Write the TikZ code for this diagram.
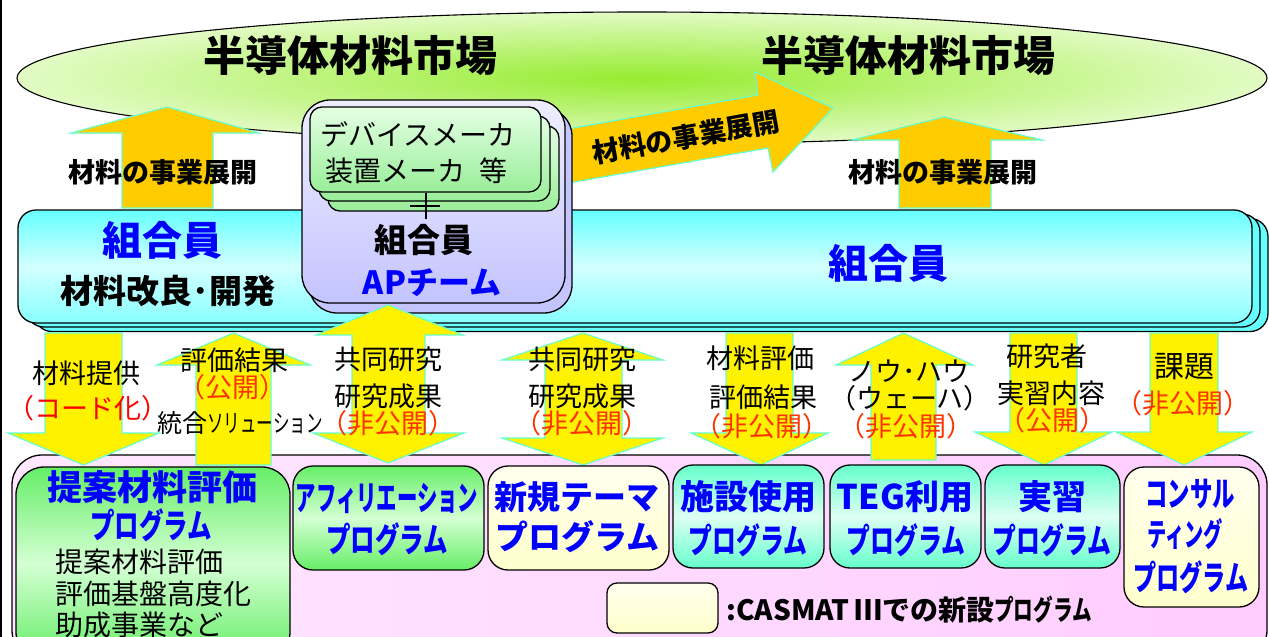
\documentclass[tikz,border=0pt]{standalone}
\usepackage{fontspec}
\setmainfont{Noto Sans CJK JP}
\usetikzlibrary{shapes.geometric}
\definecolor{arrorange}{HTML}{FFCC00}
\definecolor{aqua}{HTML}{66FFCC}
\definecolor{jblue}{HTML}{0000FF}
\definecolor{jred}{HTML}{FF3300}
\definecolor{pred}{HTML}{FF0000}
\definecolor{mktin}{HTML}{96EC30}
\definecolor{mktout}{HTML}{E2FBC4}
\definecolor{cyantop}{HTML}{66FFFF}
\definecolor{cyanmid}{HTML}{D4FFFF}
\definecolor{cyanbot}{HTML}{88FFFF}
\definecolor{lavtop}{HTML}{EEEEFF}
\definecolor{lavbot}{HTML}{C4C4FF}
\definecolor{gtop}{HTML}{66EE66}
\definecolor{gmid}{HTML}{D4FFD4}
\definecolor{ttop}{HTML}{66FFCC}
\definecolor{tmid}{HTML}{DDFFF4}
\definecolor{creamtop}{HTML}{FFFFEE}
\definecolor{creambot}{HTML}{FFFFCC}
\definecolor{pinkl}{HTML}{FFE8FF}
\definecolor{pinkr}{HTML}{FFCCFF}
\definecolor{slgtop}{HTML}{E4FFE4}
\definecolor{slgbot}{HTML}{99EE99}
\newcommand\jfs[1]{\fontsize{#1}{#1}\selectfont}
\newcommand\cond[2]{\scalebox{#1}[1]{#2}}
\tikzset{
  ora/.style={fill=arrorange, draw=aqua, line width=1.2pt, line join=miter},
  yel/.style={fill=yellow, draw=aqua, line width=1.2pt, line join=miter},
  box/.style={draw=black, line width=1.3pt, inner sep=0pt},
  band/.style={box, rounded corners=18pt, minimum width=1234pt, minimum height=113pt},
  greenbox/.style={box, rounded corners=20pt, top color=gtop, bottom color=gtop, middle color=gmid},
  tealbox/.style={box, rounded corners=20pt, top color=ttop, bottom color=ttop, middle color=tmid},
  creambox/.style={box, rounded corners=20pt, top color=creamtop, bottom color=creambot},
  slg/.style={box, rounded corners=12pt, top color=slgtop, bottom color=slgbot, minimum width=231pt, minimum height=85pt},
  lbl/.style={inner sep=0pt, font=\jfs{27}},
  big/.style={inner sep=0pt, font=\jfs{40}\bfseries},
  prog/.style={inner sep=0pt, text=jblue, font=\jfs{34}\bfseries},
  sub/.style={inner sep=0pt, anchor=west, font=\jfs{28}},
}
\begin{document}
\begin{tikzpicture}[x=1pt,y=-1pt]
\useasboundingbox (0,0) rectangle (1269,637);
\fill[white] (0,0) rectangle (1269,637);
\draw[line width=1.5pt] (1,0) -- (1,637);

% market ellipse
\node[ellipse, draw=black, line width=1.1pt, minimum width=1250pt, minimum height=132pt, inner sep=0pt,
      inner color=mktin, outer color=mktout] (mkt) at (642,78) {};
\node[inner sep=0pt, font=\jfs{42}\bfseries] (mktL) at (350,56) {半導体材料市場};
\node[inner sep=0pt, font=\jfs{42}\bfseries] (mktR) at (908,56) {半導体材料市場};

% orange arrows
\path[ora] (122,208) -- (122,133) -- (71,133) -- (167,107) -- (259,133) -- (213,133) -- (213,208) -- cycle;
\path[ora] (899,208) -- (899,140) -- (852,140) -- (944,117) -- (1042,140) -- (991,140) -- (991,208) -- cycle;
\path[ora] (540,134) -- (758,95) -- (755,72) -- (833,108) -- (773,172) -- (768,148) -- (540,188) -- cycle;
\node[inner sep=0pt, font=\jfs{27}\bfseries] (bizL) at (163,172) {材料の事業展開};
\node[inner sep=0pt, font=\jfs{27}\bfseries] (bizR) at (943,172) {材料の事業展開};
\node[inner sep=0pt, font=\jfs{27}\bfseries, rotate=10.1] (bizD) at (686,137) {材料の事業展開};

% member band
\node[band, fill=cyantop] (band3) at (651,275) {};
\node[band, fill=cyantop] (band2) at (643,270.5) {};
\node[band, top color=cyantop, bottom color=cyanbot, middle color=cyanmid] (band) at (635,266.5) {};
\node[big, text=jblue] (memL) at (162,240) {組合員};
\node[inner sep=0pt, font=\jfs{33}\bfseries] (dev) at (168,291) {材料改良･開発};
\node[big, text=jblue] (memR) at (888,263) {組合員};

% pink panel
\node[box, rounded corners=30pt, left color=pinkl, right color=pinkr, minimum width=1255pt, minimum height=205pt] (panel) at (639.5,557.5) {};

% AP team box
\node[box, rounded corners=28pt, fill=lavbot, minimum width=263pt, minimum height=205pt] (apback) at (440.5,210.5) {};
\node[box, rounded corners=28pt, top color=lavtop, bottom color=lavbot, minimum width=263pt, minimum height=203pt] (ap) at (433.5,201.5) {};
\node[slg] (g3) at (443.5,168.5) {};
\node[slg] (g2) at (434.5,158.5) {};
\node[slg] (g1) at (425.5,149.5) {};
\node[inner sep=0pt, font=\jfs{28}] (devmk) at (418,134) {デバイスメーカ};
\node[inner sep=0pt, font=\jfs{28}] (eqmk) at (416,171) {装置メーカ\hspace{0.5em}等};
\node[inner sep=0pt, font=\jfs{33}\bfseries] (apmem) at (424,240) {組合員};
\node[inner sep=0pt, text=jblue, font=\jfs{32}\bfseries] (apteam) at (432,283) {APチーム};
\coordinate (plusend) at (425.5,219);
\draw[line width=2pt] (g1.south) -- (plusend);
\draw[line width=2pt] (410,206) -- (440,206);

% yellow arrows
\path[yel] (45,333) -- (122,333) -- (122,433) -- (159,433) -- (83.5,465) -- (8,433) -- (45,433) -- cycle;
\path[yel] (196,465) -- (196,365) -- (157,365) -- (233.5,333) -- (310,365) -- (271,365) -- (271,465) -- cycle;
\path[yel] (388,305) -- (463,335) -- (425,335) -- (425,433) -- (464,433) -- (388,463) -- (313,433) -- (352,433) -- (352,335) -- (316,335) -- cycle;
\path[yel] (583,333) -- (663,360) -- (622,360) -- (622,438) -- (663,438) -- (583,465) -- (502,438) -- (545,438) -- (545,360) -- (502,360) -- cycle;
\path[yel] (726,333) -- (793,333) -- (793,433) -- (828,433) -- (761,465) -- (691,433) -- (726,433) -- cycle;
\path[yel] (871,460) -- (871,365) -- (836,365) -- (903.5,333) -- (973,365) -- (936,365) -- (936,460) -- cycle;
\path[yel] (1010,333) -- (1077,333) -- (1077,432) -- (1112,432) -- (1044,465) -- (975,432) -- (1010,432) -- cycle;
\path[yel] (1150,333) -- (1218,333) -- (1218,432) -- (1252,432) -- (1184,465) -- (1116,432) -- (1150,432) -- cycle;

% arrow labels
\node[lbl] (l1a) at (86,373) {材料提供};
\node[lbl, text=pred] (l1b) at (88,408) {（コード化）};
\node[lbl] (l2a) at (234,360) {評価結果};
\node[lbl, text=jred] (l2b) at (232,387) {（公開）};
\node[lbl, font=\jfs{25}] (l2c) at (240,423) {統合\cond{0.66}{ソリューション}};
\node[lbl] (l3a) at (388,359) {共同研究};
\node[lbl] (l3b) at (388,396) {研究成果};
\node[lbl, text=jred] (l3c) at (388,423) {（非公開）};
\node[lbl] (l4a) at (582,359) {共同研究};
\node[lbl] (l4b) at (582,396) {研究成果};
\node[lbl, text=jred] (l4c) at (582,423) {（非公開）};
\node[lbl] (l5a) at (760,358) {材料評価};
\node[lbl] (l5b) at (763,397) {評価結果};
\node[lbl, text=jred] (l5c) at (762,426) {（非公開）};
\node[lbl] (l6a) at (909,371) {ノウ･ハウ};
\node[lbl] (l6b) at (910,398) {（ウェーハ）};
\node[lbl, text=jred] (l6c) at (906,426) {（非公開）};
\node[lbl] (l7a) at (1047,356) {研究者};
\node[lbl] (l7b) at (1051,393) {実習内容};
\node[lbl, text=jred] (l7c) at (1052,420) {（公開）};
\node[lbl, font=\jfs{30}] (l8a) at (1184,367) {課題};
\node[lbl, text=jred] (l8b) at (1183,403) {（非公開）};

% program boxes
\node[greenbox, rounded corners=28pt, minimum width=274pt, minimum height=193pt] (p1) at (153,563.5) {};
\node[greenbox, minimum width=191pt, minimum height=104pt] (p2) at (388.5,518) {};
\node[creambox, minimum width=181pt, minimum height=104pt] (p3) at (578.5,518) {};
\node[tealbox, minimum width=151pt, minimum height=103pt] (p4) at (748.5,516.5) {};
\node[tealbox, minimum width=151pt, minimum height=103pt] (p5) at (905.5,516.5) {};
\node[tealbox, minimum width=135pt, minimum height=103pt] (p6) at (1052.5,516.5) {};
\node[creambox, minimum width=135pt, minimum height=140pt] (p7) at (1191.5,537) {};
\node[creambox, rounded corners=10pt, minimum width=111pt, minimum height=50pt] (legbox) at (662.5,608) {};

\node[prog, font=\jfs{35}\bfseries] (p1t) at (152,487) {提案材料評価};
\node[prog] (p1p) at (151,525) {\cond{0.72}{プログラム}};
\node[sub] (p1s1) at (55,562) {提案材料評価};
\node[sub] (p1s2) at (55,594) {評価基盤高度化};
\node[sub] (p1s3) at (55,625) {助成事業など};
\node[prog] (p2t) at (387,498) {\cond{0.6}{アフィリエーション}};
\node[prog] (p2p) at (387,539) {\cond{0.72}{プログラム}};
\node[prog, font=\jfs{33}\bfseries] (p3t) at (577,497) {新規テーマ};
\node[prog, font=\jfs{33}\bfseries] (p3p) at (577,537) {プログラム};
\node[prog] (p4t) at (748,497) {施設使用};
\node[prog] (p4p) at (748,540) {\cond{0.7}{プログラム}};
\node[prog] (p5t) at (905,497) {TEG利用};
\node[prog] (p5p) at (906,540) {\cond{0.7}{プログラム}};
\node[prog] (p6t) at (1052,497) {実習};
\node[prog] (p6p) at (1052,540) {\cond{0.7}{プログラム}};
\node[prog] (p7a) at (1190,494) {\cond{0.66}{コンサル}};
\node[prog, font=\jfs{32}\bfseries] (p7b) at (1185,534) {\cond{0.6}{ティング}};
\node[prog] (p7c) at (1191,577) {\cond{0.68}{プログラム}};
\node[inner sep=0pt, anchor=west, font=\jfs{28}\bfseries] (leg) at (726,610) {:CASMAT\,Ⅲでの新設\cond{0.7}{プログラム}};
\end{tikzpicture}
\end{document}
